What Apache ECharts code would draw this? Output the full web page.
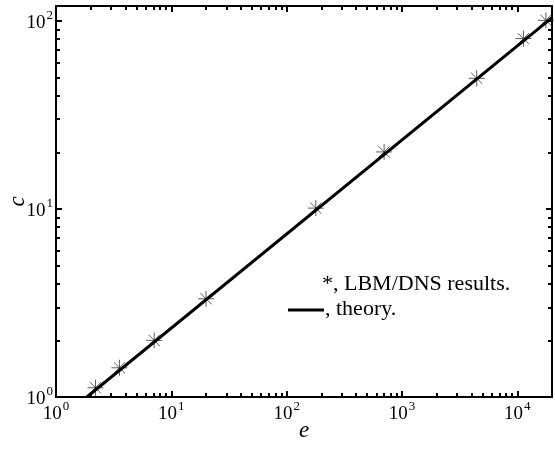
<!DOCTYPE html>
<html>
<head>
<meta charset="utf-8">
<script src="https://cdn.jsdelivr.net/npm/echarts@6/dist/echarts.min.js"></script>
<style>html,body{margin:0;padding:0;background:#fff;}#c{width:555px;height:450px;}</style>
</head>
<body>
<div id="c"></div>
<script>
// LBM/DNS results (asterisks)
var eValues = [2.2, 3.55, 7.1, 20, 179, 700, 4450, 11300, 17700];
var cValues = [1.12, 1.43, 2.0, 3.33, 10.1, 20.1, 49.5, 80.5, 100.7];
// theory line end points
var theoryE = [1.85, 20000];
var theoryC = [1.0, 104];
// axis ticks
var xMajor = [1, 10, 100, 1000, 10000];
var yMajor = [1, 10, 100];
var xMinor = [2,3,4,5,6,7,8,9,20,30,40,50,60,70,80,90,200,300,400,500,600,700,800,900,2000,3000,4000,5000,6000,7000,8000,9000];
var yMinor = [2,3,4,5,6,7,8,9,20,30,40,50,60,70,80,90];
var xRange = [1, 20000];
var yRange = [1, 120];
var legendLabels = ['*, LBM/DNS results.', ', theory.'];

var FONT = 'Liberation Serif';
var chart = echarts.init(document.getElementById('c'), null, {renderer: 'canvas'});

function supFmt(v) {
  var p = Math.round(Math.log(v) / Math.LN10);
  return '{b|10}{s|' + p + '}';
}
var rich = {
  b: {fontFamily: FONT, fontSize: 19, color: '#000', lineHeight: 24, verticalAlign: 'bottom'},
  s: {fontFamily: FONT, fontSize: 13, color: '#000', lineHeight: 24, verticalAlign: 'top', padding: [0,0,0,1]}
};

function xAxisDef(pos, ticks, len, showLine, showLabel) {
  return {
    type: 'log', logBase: 10, min: xRange[0], max: xRange[1], position: pos, gridIndex: 0,
    axisLine: {show: showLine, lineStyle: {color: '#000', width: 2}},
    axisTick: {show: true, inside: true, length: len, customValues: ticks, lineStyle: {color: '#000', width: 2}},
    axisLabel: {show: showLabel, customValues: ticks, formatter: supFmt, rich: rich, margin: 3},
    splitLine: {show: false}, minorTick: {show: false}, minorSplitLine: {show: false}
  };
}
function yAxisDef(pos, ticks, len, showLine, showLabel) {
  return {
    type: 'log', logBase: 10, min: yRange[0], max: yRange[1], position: pos, gridIndex: 0,
    axisLine: {show: showLine, lineStyle: {color: '#000', width: 2}},
    axisTick: {show: true, inside: true, length: len, customValues: ticks, lineStyle: {color: '#000', width: 2}},
    axisLabel: {show: showLabel, customValues: ticks, formatter: supFmt, rich: rich, margin: 3},
    splitLine: {show: false}, minorTick: {show: false}, minorSplitLine: {show: false}
  };
}

var xAxes = [
  xAxisDef('bottom', xMajor, 6, true, true),
  xAxisDef('bottom', xMinor, 4, false, false),
  xAxisDef('top', xMajor, 6, true, false),
  xAxisDef('top', xMinor, 4, false, false)
];
xAxes[0].name = 'e';
xAxes[0].nameLocation = 'middle';
xAxes[0].nameGap = 22;
xAxes[0].nameMoveOverlap = false;
xAxes[0].nameTextStyle = {fontFamily: FONT, fontStyle: 'italic', fontSize: 23, color: '#000'};

var yAxes = [
  yAxisDef('left', yMajor, 6, true, true),
  yAxisDef('left', yMinor, 4, false, false),
  yAxisDef('right', yMajor, 6, true, false),
  yAxisDef('right', yMinor, 4, false, false)
];
yAxes[0].name = 'c';
yAxes[0].nameLocation = 'middle';
yAxes[0].nameGap = 27;
yAxes[0].nameRotate = 90;
yAxes[0].nameMoveOverlap = false;
yAxes[0].nameTextStyle = {fontFamily: FONT, fontStyle: 'italic', fontSize: 23, color: '#000'};

var scatterData = eValues.map(function (e, i) { return [e, cValues[i]]; });
var lineData = theoryE.map(function (e, i) { return [e, theoryC[i]]; });

chart.setOption({
  animation: false,
  backgroundColor: '#fff',
  grid: {left: 56, right: 3, top: 6, bottom: 53, containLabel: false, outerBoundsMode: 'none'},
  xAxis: xAxes,
  yAxis: yAxes,
  series: [
    {
      type: 'scatter', xAxisIndex: 0, yAxisIndex: 0, data: scatterData,
      symbol: 'path://M10,0L10,20M0,10L20,10M3,3L17,17M3,17L17,3',
      symbolSize: 16,
      itemStyle: {color: 'rgba(0,0,0,0)', borderColor: '#333', borderWidth: 1},
      z: 2
    },
    {
      type: 'line', xAxisIndex: 0, yAxisIndex: 0, data: lineData,
      showSymbol: false, symbol: 'none',
      lineStyle: {color: '#000', width: 3},
      clip: true, z: 3
    }
  ],
  graphic: [
    {type: 'text', left: 322, top: 273, style: {text: legendLabels[0], fontFamily: FONT, fontSize: 22, fill: '#000'}},
    {type: 'line', shape: {x1: 288, y1: 310, x2: 324, y2: 310}, style: {stroke: '#000', lineWidth: 3}},
    {type: 'text', left: 325, top: 298, style: {text: legendLabels[1], fontFamily: FONT, fontSize: 22, fill: '#000'}}
  ]
});
</script>
</body>
</html>
